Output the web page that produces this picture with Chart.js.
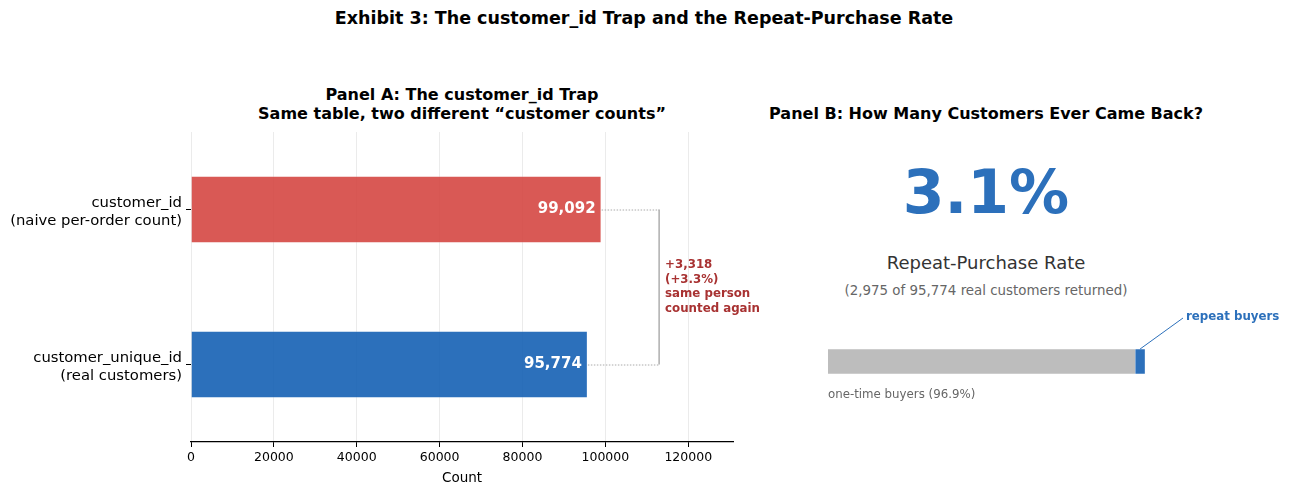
<!DOCTYPE html>
<html>
<head>
<meta charset="utf-8">
<script src="https://cdn.jsdelivr.net/npm/chart.js"></script>
<style>
  body { margin: 0; width: 1289px; height: 495px; background: #fff; position: relative; overflow: hidden;
         font-family: "DejaVu Sans", sans-serif; }
  .t { position: absolute; white-space: nowrap; transform: translate(-50%, -50%); text-align: center; }
  canvas { position: absolute; }
</style>
</head>
<body>
<!-- titres -->
<div class="t" style="left:644px; top:18px; font-size:17.5px; font-weight:bold;">Exhibit 3: The customer_id Trap and the Repeat-Purchase Rate</div>
<div class="t" style="left:462px; top:104px; font-size:16px; font-weight:bold; line-height:18.5px;">Panel A: The customer_id Trap<br>Same table, two different “customer counts”</div>
<div class="t" style="left:986px; top:113px; font-size:16px; font-weight:bold;">Panel B: How Many Customers Ever Came Back?</div>

<!-- panneau B : textes -->
<div class="t" id="bigRate" style="left:986px; top:192px; font-size:60px; font-weight:bold; color:#2c70bb;"></div>
<div class="t" style="left:986px; top:262px; font-size:18px; color:#333;">Repeat-Purchase Rate</div>
<div class="t" id="subRate" style="left:986px; top:290px; font-size:13.4px; color:#666;"></div>

<canvas id="chartA" width="760" height="362" style="left:0; top:125px;"></canvas>
<canvas id="chartB" width="529" height="300" style="left:760px; top:130px;"></canvas>

<script>
// données panneau A
var categories = [["customer_id", "(naive per-order count)"], ["customer_unique_id", "(real customers)"]];
var counts = [99092, 95774];
var barColors = ['rgba(213,71,66,0.9)', 'rgba(21,96,180,0.9)'];
var xTicks = [0, 20000, 40000, 60000, 80000, 100000, 120000];

// données panneau B
var repeatCustomers = 2975;
var realCustomers = 95774;
var oneTimeShare = [96.9];
var repeatShare = [3.1];

function fmt(n) { return n.toLocaleString('en-US'); }

var diff = counts[0] - counts[1];
var diffPct = (diff / counts[0] * 100).toFixed(1);
var bracketX = counts[0] * 1.14;

document.getElementById('bigRate').textContent = (repeatCustomers / realCustomers * 100).toFixed(1) + '%';
document.getElementById('subRate').textContent = '(' + fmt(repeatCustomers) + ' of ' + fmt(realCustomers) + ' real customers returned)';

// étiquettes + accolade
var labelsA = {
  id: 'labelsA',
  afterDatasetsDraw: function(chart) {
    var ctx = chart.ctx;
    var bars = chart.getDatasetMeta(0).data;
    var xb = chart.scales.x.getPixelForValue(bracketX);
    ctx.save();
    ctx.font = 'bold 15px "DejaVu Sans"';
    ctx.fillStyle = '#fff';
    ctx.textAlign = 'right';
    ctx.textBaseline = 'middle';
    bars.forEach(function(b, i) { ctx.fillText(fmt(counts[i]), b.x - 6, b.y); });

    ctx.strokeStyle = '#aaa';
    ctx.lineWidth = 1;
    ctx.setLineDash([1.5, 1.5]);
    bars.forEach(function(b) {
      ctx.beginPath(); ctx.moveTo(b.x, b.y + 0.5); ctx.lineTo(xb, b.y + 0.5); ctx.stroke();
    });
    ctx.setLineDash([]);
    ctx.strokeStyle = '#999';
    ctx.lineWidth = 1.2;
    ctx.beginPath(); ctx.moveTo(xb, bars[0].y); ctx.lineTo(xb, bars[1].y); ctx.stroke();

    var lines = ['+' + fmt(diff), '(+' + diffPct + '%)', 'same person', 'counted again'];
    ctx.font = 'bold 11.8px "DejaVu Sans"';
    ctx.fillStyle = '#a83232';
    ctx.textAlign = 'left';
    var mid = (bars[0].y + bars[1].y) / 2;
    lines.forEach(function(l, i) { ctx.fillText(l, xb + 6, mid + (i - 1.5) * 14.7); });
    ctx.restore();
  }
};

new Chart(document.getElementById('chartA'), {
  type: 'bar',
  data: {
    labels: categories,
    datasets: [{
      data: counts,
      backgroundColor: barColors,
      borderColor: 'rgba(255,255,255,0.25)',
      borderWidth: 1,
      barPercentage: 0.87,
      categoryPercentage: 0.5
    }]
  },
  options: {
    indexAxis: 'y',
    responsive: false,
    animation: false,
    layout: { padding: { left: 0, right: 27, top: 7, bottom: 0 } },
    plugins: { legend: { display: false }, tooltip: { enabled: false } },
    scales: {
      x: {
        min: 0, max: 130800,
        afterBuildTicks: function(s) { s.ticks = xTicks.map(function(v) { return { value: v }; }); },
        afterFit: function(s) { s.height = 45; },
        grid: { color: '#ebebeb', tickColor: '#000', tickLength: 5 },
        border: { color: '#000', width: 1.2 },
        ticks: { color: '#000', font: { family: 'DejaVu Sans', size: 12.5 }, padding: 3, maxRotation: 0,
                 callback: function(v) { return String(v); } },
        title: { display: true, text: 'Count', color: '#000', font: { family: 'DejaVu Sans', size: 13.5 }, padding: { top: 2, bottom: 0 } }
      },
      y: {
        afterFit: function(s) { s.width = 191; s.paddingTop = 0; s.paddingBottom = 0; },
        grid: { drawOnChartArea: false, offset: false, tickColor: '#000', tickLength: 5 },
        border: { display: false },
        ticks: { color: '#000', font: { family: 'DejaVu Sans', size: 14.8, lineHeight: 1.2 }, padding: 4,
                 crossAlign: 'near', labelOffset: 3 }
      }
    }
  },
  plugins: [labelsA]
});

// panneau B
var labelsB = {
  id: 'labelsB',
  afterDatasetsDraw: function(chart) {
    var ctx = chart.ctx;
    var area = chart.chartArea;
    var x = chart.scales.x.getPixelForValue(oneTimeShare[0] + repeatShare[0] / 2);
    ctx.save();
    ctx.strokeStyle = '#2c70bb';
    ctx.lineWidth = 1;
    ctx.beginPath(); ctx.moveTo(x, area.top); ctx.lineTo(423, 188); ctx.stroke();
    ctx.font = 'bold 11.8px "DejaVu Sans"';
    ctx.fillStyle = '#2c70bb';
    ctx.textBaseline = 'middle';
    ctx.fillText('repeat buyers', 426, 187);
    ctx.font = '11.8px "DejaVu Sans"';
    ctx.fillStyle = '#666';
    ctx.fillText('one-time buyers (' + oneTimeShare[0].toFixed(1) + '%)', area.left, 265);
    ctx.restore();
  }
};

new Chart(document.getElementById('chartB'), {
  type: 'bar',
  data: {
    labels: [''],
    datasets: [
      { data: oneTimeShare, backgroundColor: '#bdbdbd', borderColor: '#fff', borderWidth: 0.5, barPercentage: 1, categoryPercentage: 1 },
      { data: repeatShare, backgroundColor: '#2c70bb', borderColor: '#fff', borderWidth: 0.5, barPercentage: 1, categoryPercentage: 1 }
    ]
  },
  options: {
    indexAxis: 'y',
    responsive: false,
    animation: false,
    layout: { padding: { left: 68, right: 144, top: 219, bottom: 56 } },
    plugins: { legend: { display: false }, tooltip: { enabled: false } },
    scales: {
      x: { stacked: true, min: 0, max: 100, display: false },
      y: { stacked: true, display: false }
    }
  },
  plugins: [labelsB]
});
</script>
</body>
</html>
